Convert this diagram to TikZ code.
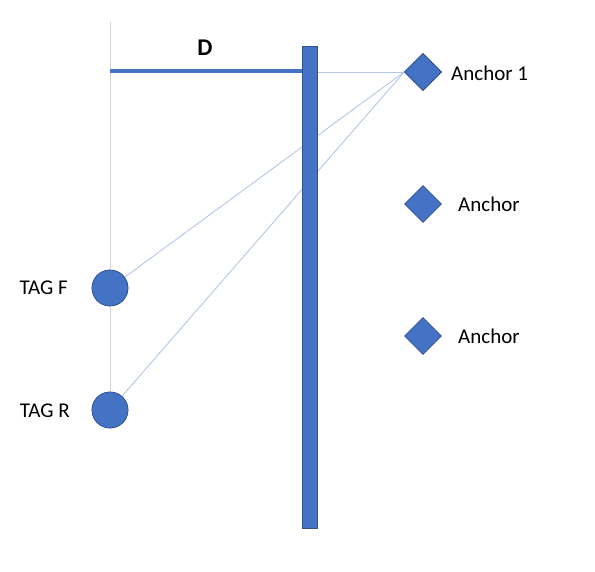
\documentclass[tikz,border=0pt]{standalone}
\usepackage{fontspec}
\setmainfont{Carlito}
\usetikzlibrary{shapes.geometric}
\definecolor{fillblue}{HTML}{4472C4}
\definecolor{edgeblue}{HTML}{2F528F}
\definecolor{lightblue}{HTML}{B4C7E7}
\begin{document}
\begin{tikzpicture}[x=1pt,y=-1pt,
  tagdot/.style={circle,fill=fillblue,draw=edgeblue,line width=0.6pt,minimum size=36pt,inner sep=0pt},
  anchordia/.style={diamond,fill=fillblue,draw=edgeblue,line width=0.6pt,minimum size=37pt,inner sep=0pt},
  lbl/.style={font=\fontsize{21}{25}\selectfont,inner sep=0pt},
  ray/.style={draw=lightblue,line width=0.9pt}]
\useasboundingbox (0,0) rectangle (595,572);
% nodes
\node[tagdot] (tf) at (110,288) {};
\node[tagdot] (tr) at (110,410) {};
\node[anchordia] (a1) at (423,72) {};
\node[anchordia] (a2) at (423,204) {};
\node[anchordia] (a3) at (423,336) {};
\coordinate (top) at (110,22);
\coordinate (dstart) at (110,71);
% guide line and rays (behind)
\draw[gray!35,line width=0.7pt] (top) -- (tf) -- (tr);
\draw[ray] (a1.west) -- (tf);
\draw[ray] (a1.west) -- (tr);
\draw[ray] (a1.west) -- (309.5,72);
% redraw nodes on top
\node[tagdot] at (tf) {};
\node[tagdot] at (tr) {};
\node[anchordia] at (a1) {};
% bar
\node[draw=edgeblue,fill=fillblue,line width=0.6pt,minimum width=15pt,minimum height=482pt,inner sep=0pt] (bar) at (309.5,287) {};
\draw[fillblue,line width=3.5pt] (dstart) -- (bar.west |- dstart);
\node[font=\fontsize{24}{28}\selectfont\bfseries,inner sep=0pt] (d) at (205,48) {D};
% labels
\node[lbl,anchor=west] (l1) at (451,73) {Anchor 1};
\node[lbl,anchor=west] (l2) at (458,204) {Anchor};
\node[lbl,anchor=west] (l3) at (458,336) {Anchor};
\node[lbl,anchor=east] (ltf) at (68,288) {TAG F};
\node[lbl,anchor=east] (ltr) at (70,411) {TAG R};
\end{tikzpicture}
\end{document}
